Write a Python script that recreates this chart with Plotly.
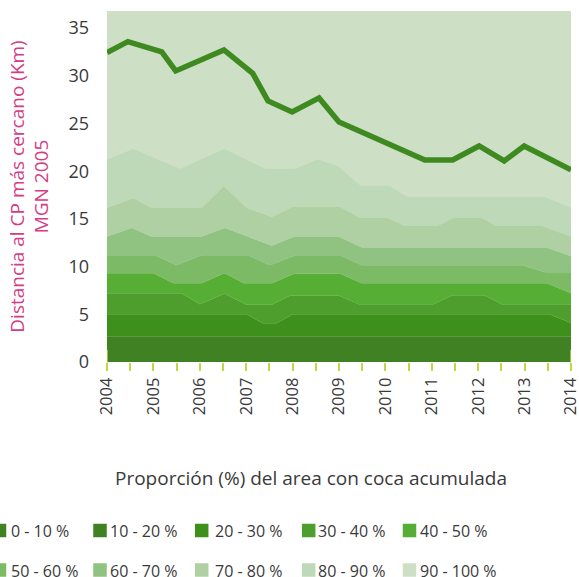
import plotly.graph_objects as go

# Band labels and fill colours (cumulative share of coca area)
band_labels = ["0 - 10 %", "10 - 20 %", "20 - 30 %", "30 - 40 %", "40 - 50 %",
               "50 - 60 %", "60 - 70 %", "70 - 80 %", "80 - 90 %", "90 - 100 %"]
band_colors = ["#3f8123", "#3f8123", "#3d901b", "#4e9e2e", "#56ae34",
               "#7cba66", "#90c282", "#afd0a2", "#bed9b7", "#cde0c6"]

years = list(range(2004, 2015))

# Upper edge of each band: distance (km) at the given decimal year
b10_x = [2004.0, 2014.0]
b10_y = [1.3, 1.3]
b20_x = [2004.0, 2014.0]
b20_y = [2.65, 2.65]
b30_x = [2004.0, 2007.01, 2007.36, 2007.66, 2008.0, 2013.53, 2014.0]
b30_y = [5.0, 5.0, 4.05, 4.05, 5.0, 5.0, 4.1]
b40_x = [2004.0, 2005.61, 2006.0, 2006.53, 2007.01, 2007.55, 2007.94, 2009.0,
         2009.43, 2011.03, 2011.45, 2012.13, 2012.51, 2014.0]
b40_y = [7.2, 7.2, 6.05, 7.15, 6.0, 6.0, 6.95, 6.95,
         6.05, 6.05, 7.0, 7.0, 6.05, 6.05]
b50_x = [2004.0, 2005.0, 2005.43, 2006.04, 2006.53, 2006.95, 2007.56, 2008.03,
         2009.02, 2009.49, 2013.48, 2014.0]
b50_y = [9.3, 9.3, 8.25, 8.25, 9.3, 8.25, 8.25, 9.25,
         9.25, 8.25, 8.25, 7.2]
b60_x = [2004.0, 2005.03, 2005.5, 2006.04, 2007.03, 2007.51, 2008.07, 2009.02,
         2009.49, 2012.95, 2013.44, 2014.0]
b60_y = [11.2, 11.2, 10.15, 11.2, 11.2, 10.15, 11.2, 11.2,
         10.15, 10.15, 9.4, 9.4]
b70_x = [2004.0, 2004.54, 2004.95, 2006.04, 2006.54, 2007.01, 2007.55, 2008.02,
         2009.01, 2009.49, 2013.46, 2014.0]
b70_y = [13.15, 14.05, 13.15, 13.15, 14.05, 13.15, 12.2, 13.1,
         13.1, 12.0, 12.0, 11.1]
b80_x = [2004.0, 2004.57, 2004.96, 2006.04, 2006.52, 2007.01, 2007.55, 2008.02,
         2009.0, 2009.45, 2010.03, 2010.42, 2011.12, 2011.47, 2012.08, 2012.4,
         2013.37, 2014.0]
b80_y = [16.15, 17.2, 16.15, 16.15, 18.45, 16.15, 15.2, 16.3,
         16.3, 15.15, 15.15, 14.25, 14.25, 15.1, 15.1, 14.25,
         14.25, 13.15]
b90_x = [2004.0, 2004.56, 2005.57, 2006.53, 2007.41, 2008.05, 2008.54, 2008.98,
         2009.46, 2010.08, 2010.49, 2013.44, 2014.0]
b90_y = [21.2, 22.35, 20.25, 22.35, 20.25, 20.25, 21.25, 20.55,
         18.5, 18.5, 17.3, 17.3, 16.2]
# Maximum distance (upper edge of the 90 - 100 % band)
b100_x = [2004.0, 2004.45, 2005.18, 2005.48, 2006.52, 2007.14, 2007.47, 2007.99,
          2008.57, 2009.0, 2010.85, 2011.45, 2012.02, 2012.56, 2012.99, 2014.0]
b100_y = [32.44, 33.59, 32.51, 30.52, 32.72, 30.26, 27.37, 26.22,
          27.69, 25.17, 21.18, 21.18, 22.65, 21.08, 22.65, 20.14]

edges_x = [b10_x, b20_x, b30_x, b40_x, b50_x, b60_x, b70_x, b80_x, b90_x, b100_x]
edges_y = [b10_y, b20_y, b30_y, b40_y, b50_y, b60_y, b70_y, b80_y, b90_y, b100_y]

FONT = "Open Sans"
TEXT = "#3a3a3a"
TICK_GREEN = "#c2d93f"
LINE_GREEN = "#3e8a21"

W, H = 579, 577
ML, MR, MT, MB = 107, 8, 11, 215
PW, PH = W - ML - MR, H - MT - MB


def px_to_paper_x(px):
    return (px - ML) / PW


def px_to_paper_y(py):
    return (H - MB - py) / PH


fig = go.Figure()

# Stacked bands: each one fills down to the previous edge
# (the two lowest bands share a colour, so both fill to zero to avoid a seam)
for i, (ex, ey) in enumerate(zip(edges_x, edges_y)):
    fig.add_trace(go.Scatter(
        x=ex, y=ey, mode="lines", name=band_labels[i],
        line=dict(width=0, color=band_colors[i]),
        fill="tozeroy" if i < 2 else "tonexty",
        fillcolor=band_colors[i],
        showlegend=False, hoverinfo="skip",
    ))

# Maximum distance line
fig.add_trace(go.Scatter(
    x=b100_x, y=b100_y, mode="lines",
    line=dict(width=5.5, color=LINE_GREEN),
    showlegend=False,
))

half_ticks = [y + h for y in years for h in (0.0, 0.5) if y + h <= years[-1]]
half_text = [str(int(t)) if t == int(t) else "" for t in half_ticks]

# Key below the chart: two rows of five swatches with labels
key_cols = [(-0.5, 10), (100, 109), (201.7, 214), (308.7, 317), (409.5, 419)]
key_rows = [530.5, 570]
SW = 13.5
shapes = []
annotations = []
for i, (lab, col) in enumerate(zip(band_labels, band_colors)):
    cx, tx = key_cols[i % 5]
    cy = key_rows[i // 5]
    shapes.append(dict(
        type="rect", xref="paper", yref="paper", layer="above",
        x0=px_to_paper_x(cx - SW / 2), x1=px_to_paper_x(cx + SW / 2),
        y0=px_to_paper_y(cy + SW / 2), y1=px_to_paper_y(cy - SW / 2),
        fillcolor=col, line=dict(width=0),
    ))
    annotations.append(dict(
        text=lab, xref="paper", yref="paper",
        x=px_to_paper_x(tx), y=px_to_paper_y(cy + 0.5),
        xanchor="left", yanchor="middle", showarrow=False, borderpad=0,
        font=dict(family=FONT, size=16, color=TEXT),
    ))

annotations.append(dict(
    text="Proporción (%) del area con coca acumulada",
    xref="paper", yref="paper", x=px_to_paper_x(311), y=px_to_paper_y(478),
    xanchor="center", yanchor="middle", showarrow=False,
    font=dict(family=FONT, size=19, color=TEXT),
))

# Taller marks at both ends of the x axis
for xv in (years[0], years[-1]):
    shapes.append(dict(
        type="line", xref="x", yref="paper", x0=xv, x1=xv,
        y0=-8 / PH, y1=12 / PH,
        line=dict(color=TICK_GREEN, width=1.5),
    ))

fig.update_layout(
    width=W, height=H,
    margin=dict(l=ML, r=MR, t=MT, b=MB, autoexpand=False),
    paper_bgcolor="white",
    plot_bgcolor="#cde0c6",
    font=dict(family=FONT, color=TEXT),
    showlegend=False,
    xaxis=dict(
        range=[2004, 2014], tickmode="array",
        tickvals=half_ticks, ticktext=half_text, tickangle=-90,
        ticks="outside", ticklen=8, tickwidth=1.5, tickcolor=TICK_GREEN,
        tickfont=dict(family=FONT, size=16.5, color=TEXT),
        ticklabeloverflow="allow", automargin=False,
        showgrid=False, zeroline=False, showline=False,
    ),
    yaxis=dict(
        range=[0, 36.8], tickmode="array", tickvals=[0, 5, 10, 15, 20, 25, 30, 35],
        tickfont=dict(family=FONT, size=18, color=TEXT),
        ticklabelstandoff=17, automargin=False,
        showgrid=False, zeroline=False, showline=False,
        title=dict(text="Distancia al CP más cercano (Km)<br>MGN 2005",
                   font=dict(family=FONT, size=19, color="#d43d86"),
                   standoff=14),
    ),
    annotations=annotations,
    shapes=shapes,
)

fig.write_html("out.html")
